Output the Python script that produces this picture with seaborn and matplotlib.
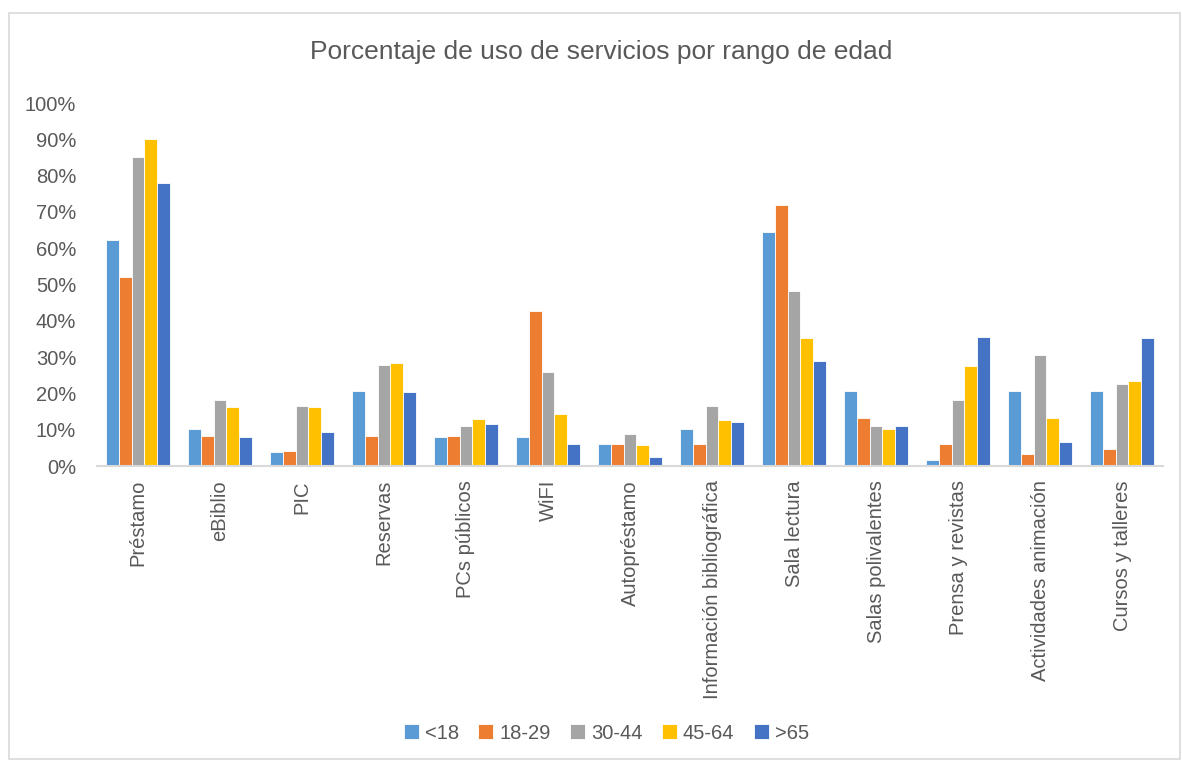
import pandas as pd
import matplotlib
matplotlib.use('Agg')
import matplotlib.pyplot as plt
import matplotlib.ticker as mtick
import seaborn as sns

servicios = ['Préstamo', 'eBiblio', 'PIC', 'Reservas', 'PCs públicos', 'WiFI',
             'Autopréstamo', 'Información bibliográfica', 'Sala lectura',
             'Salas polivalentes', 'Prensa y revistas', 'Actividades animación',
             'Cursos y talleres']
edades = ['<18', '18-29', '30-44', '45-64', '>65']

menor18 = [62.3, 10.2, 4.0, 20.7, 8.1, 8.1, 6.1, 10.2, 64.5, 20.6, 1.8, 20.6, 20.6]
de18a29 = [52.0, 8.3, 4.1, 8.3, 8.4, 42.7, 6.2, 6.2, 72.0, 13.4, 6.2, 3.3, 4.7]
de30a44 = [85.2, 18.2, 16.7, 27.9, 11.1, 25.8, 9.0, 16.7, 48.2, 11.0, 18.1, 30.7, 22.5]
de45a64 = [90.0, 16.3, 16.3, 28.3, 12.9, 14.3, 5.7, 12.6, 35.2, 10.2, 27.5, 13.2, 23.5]
mayor65 = [77.9, 8.0, 9.4, 20.4, 11.7, 6.2, 2.5, 12.1, 29.1, 11.2, 35.5, 6.7, 35.2]

colores = ['#5B9BD5', '#ED7D31', '#A5A5A5', '#FFC000', '#4472C4']

series = [menor18, de18a29, de30a44, de45a64, mayor65]
filas = []
for edad, valores in zip(edades, series):
    for s, v in zip(servicios, valores):
        filas.append({'servicio': s, 'edad': edad, 'valor': v / 100})
df = pd.DataFrame(filas)

sns.set_style('white')
plt.rcParams['font.family'] = ['Liberation Sans', 'DejaVu Sans']

fig = plt.figure(figsize=(11.82, 7.63), dpi=100)
ax = fig.add_axes([0.082, 0.389, 0.902, 0.476])

sns.barplot(data=df, x='servicio', y='valor', hue='edad', order=servicios,
            hue_order=edades, palette=colores, saturation=1, width=0.78,
            edgecolor='white', linewidth=0.6, ax=ax)

ax.set_ylim(0, 1.0)
ax.set_xlim(-0.5, len(servicios) - 0.5)
ax.yaxis.set_major_locator(mtick.MultipleLocator(0.1))
ax.yaxis.set_major_formatter(mtick.PercentFormatter(1.0, decimals=0))
ax.set_xlabel('')
ax.set_ylabel('')
ax.tick_params(axis='y', labelsize=14.5, colors='#595959', length=0, pad=15)
ax.tick_params(axis='x', labelsize=14.5, colors='#595959', length=0, pad=10)
plt.setp(ax.get_xticklabels(), rotation=90)

for lado in ['top', 'right', 'left']:
    ax.spines[lado].set_visible(False)
ax.spines['bottom'].set_color('#D9D9D9')
ax.spines['bottom'].set_linewidth(1.5)

fig.text(0.509, 0.932, 'Porcentaje de uso de servicios por rango de edad',
         ha='center', va='center', fontsize=19, color='#595959')

ax.legend(loc='center', bbox_to_anchor=(0.513, 0.039), bbox_transform=fig.transFigure,
          ncol=5, frameon=False, fontsize=14.5, labelcolor='#595959',
          handlelength=0.75, handleheight=0.75, handletextpad=0.3, columnspacing=0.95)

borde = plt.Rectangle((0.008, 0.005), 0.99, 0.978, transform=fig.transFigure,
                      fill=False, edgecolor='#D9D9D9', linewidth=1.2)
fig.patches.append(borde)

fig.savefig('out.png', dpi=100, facecolor='white')
